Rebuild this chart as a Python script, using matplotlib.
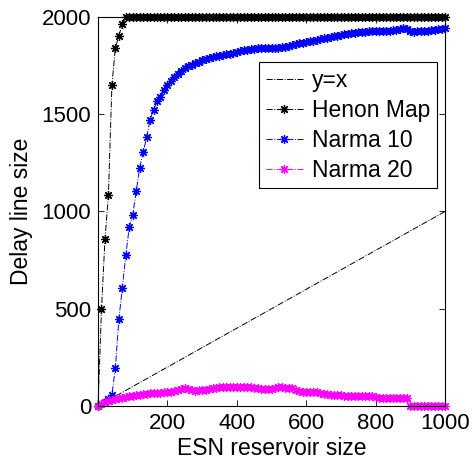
import matplotlib
matplotlib.use("Agg")
import matplotlib.pyplot as plt

plt.rcParams['font.family'] = ['Liberation Sans', 'DejaVu Sans']

# reservoir sizes 0..1000 step 10
esn_size = list(range(0, 1001, 10))

henon = [0, 497, 856, 1087, 1651, 1841, 1903, 1964] + [2000] * 93

narma10 = [0, 8, 19, 35, 58, 195, 446, 605, 776, 918,
           981, 1104, 1224, 1304, 1382, 1472, 1523, 1566, 1591, 1625,
           1651, 1672, 1694, 1708, 1724, 1736, 1746, 1754, 1762, 1771,
           1779, 1785, 1790, 1794, 1797, 1801, 1805, 1808, 1812, 1816,
           1820, 1824, 1828, 1831, 1834, 1836, 1838, 1839, 1840, 1841,
           1842, 1843, 1843, 1844, 1846, 1850, 1855, 1860, 1864, 1868,
           1872, 1875, 1879, 1883, 1887, 1891, 1894, 1897, 1901, 1904,
           1908, 1911, 1914, 1917, 1919, 1921, 1923, 1925, 1926, 1927,
           1928, 1929, 1929, 1930, 1930, 1931, 1934, 1938, 1943, 1940,
           1930, 1925, 1926, 1927, 1928, 1930, 1932, 1935, 1938, 1940,
           1942]

narma20 = [0, 10, 18, 25, 31, 35, 39, 43, 47, 49,
           52, 55, 58, 61, 63, 65, 66, 67, 68, 70,
           72, 74, 77, 80, 86, 91, 88, 82, 79, 80,
           82, 84, 86, 90, 95, 99, 98, 97, 96, 96,
           96, 96, 97, 97, 96, 95, 90, 86, 86, 86,
           88, 92, 96, 96, 95, 92, 90, 84, 76, 71,
           70, 70, 70, 70, 68, 64, 60, 57, 56, 55,
           54, 53, 53, 53, 53, 53, 53, 53, 53, 52,
           48, 42, 40, 40, 40, 40, 40, 40, 40, 40,
           2, 0, 0, 0, 0, 0, 0, 0, 0, 0,
           0]

fig = plt.figure(figsize=(4.77, 4.59), dpi=100)
ax = fig.add_axes([0.2055, 0.1155, 0.7275, 0.8475])

ast = (8, 2, 0)
ax.plot(esn_size, esn_size, '-.', color='k', lw=0.7, label='y=x')
ax.plot(esn_size, henon, '-.', color='k', lw=0.7, marker=ast, ms=6.5, mew=0.9,
        label='Henon Map', clip_on=False)
ax.plot(esn_size, narma10, '-.', color='#0000ff', lw=0.7, marker=ast, ms=6.5,
        mew=0.9, label='Narma 10', clip_on=False)
ax.plot(esn_size, narma20, '-.', color='#ff00ff', lw=0.7, marker=ast, ms=6.5,
        mew=0.9, label='Narma 20', clip_on=False)

ax.set_xlim(0, 1000)
ax.set_ylim(0, 2000)
ax.set_xticks([200, 400, 600, 800, 1000])
ax.set_yticks([0, 500, 1000, 1500, 2000])
ax.tick_params(direction='in', length=4, width=0.6, labelsize=16,
               top=True, right=True, pad=5)
for s in ax.spines.values():
    s.set_linewidth(0.8)

ax.set_xlabel('ESN reservoir size', fontsize=16.5, labelpad=2)
ax.set_ylabel('Delay line size', fontsize=16.5, labelpad=6)

leg = ax.legend(loc='upper right', bbox_to_anchor=(0.977, 0.884),
                borderaxespad=0, fontsize=16.5, numpoints=1,
                handlelength=1.6, handletextpad=0.4, borderpad=0.3,
                labelspacing=0.3, fancybox=False, framealpha=1)
leg.get_frame().set_edgecolor('k')
leg.get_frame().set_linewidth(0.8)

fig.savefig('out.png', dpi=100)
